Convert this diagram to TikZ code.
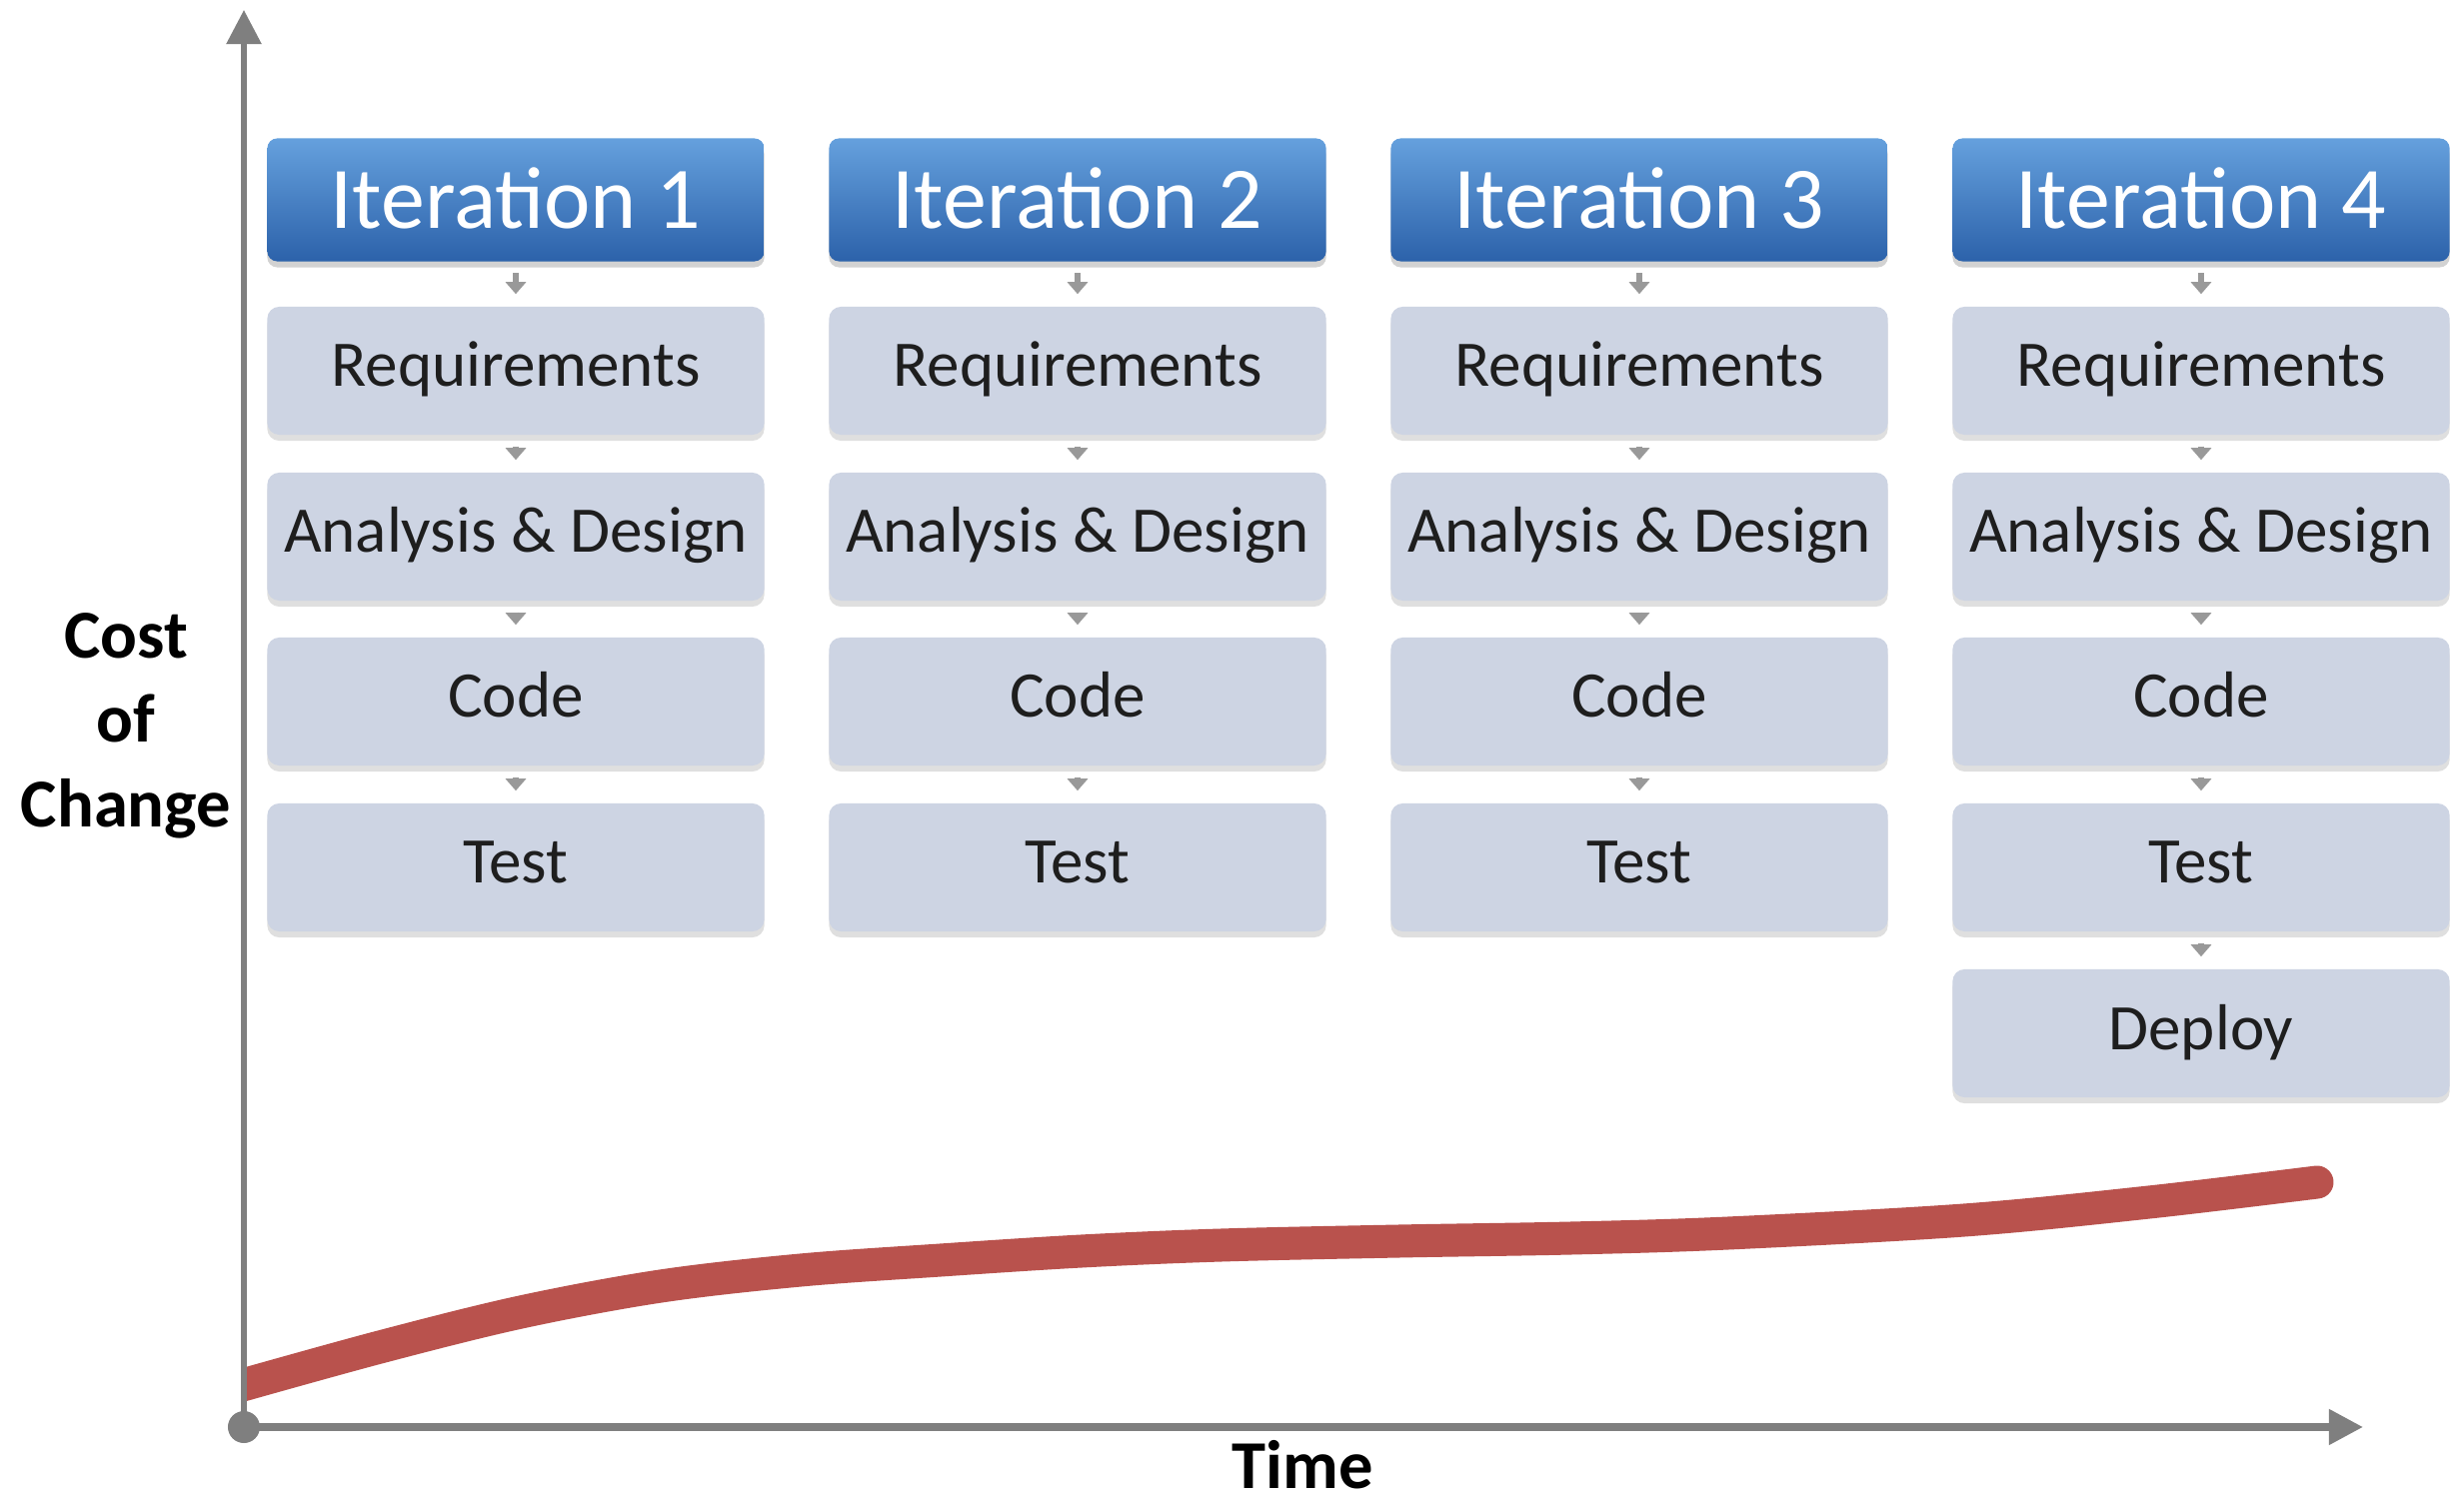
\documentclass[tikz,border=0pt]{standalone}
\usepackage{fontspec}
\setmainfont{Carlito}
\usetikzlibrary{arrows.meta,shadows}

\definecolor{hdtop}{HTML}{65A0DD}
\definecolor{hdbot}{HTML}{2C62AA}
\definecolor{stepfill}{HTML}{CDD4E3}
\definecolor{axisgray}{HTML}{7F7F7F}
\definecolor{curvered}{HTML}{B9524D}
\definecolor{txtdark}{HTML}{1E1E1E}

\begin{document}
\begin{tikzpicture}[x=0.01cm,y=-0.01cm,
  header/.style={rounded corners=1mm, top color=hdtop, bottom color=hdbot,
    minimum width=4.97cm, minimum height=1.23cm, inner sep=0pt,
    text=white, font=\fontsize{25}{30}\selectfont,
    text height=5.7mm, text depth=0mm,
    drop shadow={shadow xshift=0mm, shadow yshift=-0.6mm, opacity=0.35}},
  stepbox/.style={rounded corners=1.2mm, fill=stepfill,
    minimum width=4.97cm, minimum height=1.28cm, inner sep=0pt,
    text=txtdark, font=\fontsize{18.5}{22}\selectfont,
    text height=4.2mm, text depth=1mm,
    drop shadow={shadow xshift=0mm, shadow yshift=-0.6mm, opacity=0.25}},
  link/.style={draw=gray!80, line width=0.6mm,
    -{Triangle[length=1.2mm,width=2mm]}, shorten <=1.1mm, shorten >=1.2mm},
  axis/.style={draw=axisgray, -{Triangle[length=3.4mm,width=3.4mm]}},
  label/.style={font=\bfseries\fontsize{19.5}{24}\selectfont, text=black,
    align=center, inner sep=0pt},
  costcurve/.style={draw=curvered, line width=3.3mm, line cap=round}
]
\fill[white] (0,0) rectangle (2465,1504);
\useasboundingbox (0,0) rectangle (2465,1504);

% columns
\foreach \i/\cx in {1/516,2/1078,3/1640,4/2202}{
  \node[header]  (h\i) at (\cx,200) {Iteration \i};
  \node[stepbox] (r\i) at (\cx,371) {Requirements};
  \node[stepbox] (a\i) at (\cx,537) {Analysis \& Design};
  \node[stepbox] (c\i) at (\cx,702) {Code};
  \node[stepbox] (t\i) at (\cx,868) {Test};
  \draw[link] (h\i) -- (r\i);
  \draw[link] (r\i) -- (a\i);
  \draw[link] (a\i) -- (c\i);
  \draw[link] (c\i) -- (t\i);
}
\node[stepbox] (d4) at (2202,1034) {Deploy};
\draw[link] (t4) -- (d4);

% cost curve
\begin{scope}
  \clip (244,0) rectangle (2465,1504);
  \draw[costcurve] plot[smooth, tension=0.55] coordinates
    {(232,1389) (380,1348) (521,1313) (661,1287) (801,1271) (941,1261)
     (1082,1252) (1222,1246) (1400,1242) (1572,1239) (1729,1234)
     (1965,1221) (2150,1203) (2318,1183)};
\end{scope}

% axes
\coordinate (o) at (244,1428);
\coordinate (ytip) at (244,10);
\coordinate (xtip) at (2364,1428);
\draw[axis, line width=0.55mm] (o) -- (ytip);
\draw[axis, line width=0.75mm] (o) -- (xtip);
\fill[axisgray] (o) circle[radius=1.6mm];

% labels
\node[label] (ylab) at (126,726) {Cost\\of\\Change};
\node[label] (xlab) at (1303,1466) {Time};
\end{tikzpicture}
\end{document}
